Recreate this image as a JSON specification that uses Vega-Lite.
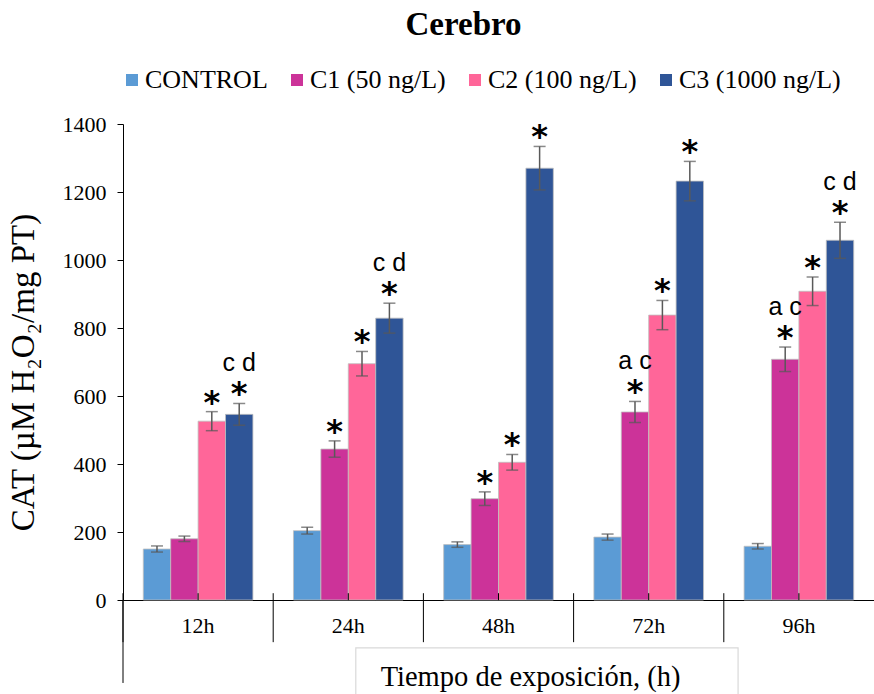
{
  "$schema": "https://vega.github.io/schema/vega-lite/v6.json",
  "autosize": {"type": "none"},
  "padding": {"left": 123, "top": 124, "right": 0, "bottom": 94},
  "width": 751,
  "height": 476,
  "background": "white",
  "title": {
    "text": "Cerebro",
    "font": "Liberation Serif",
    "fontSize": 33,
    "fontWeight": "bold",
    "color": "#000000",
    "anchor": "middle",
    "dx": -35,
    "offset": 25
  },
  "config": {
    "view": {"stroke": null},
    "axis": {"zindex": 1}
  },
  "datasets": {
    "cat": [
      {"tiempo": "12h", "grupo": "CONTROL", "valor": 150, "inf": 141, "sup": 159, "sig": "", "letras": ""},
      {"tiempo": "12h", "grupo": "C1 (50 ng/L)", "valor": 180, "inf": 172, "sup": 188, "sig": "", "letras": ""},
      {"tiempo": "12h", "grupo": "C2 (100 ng/L)", "valor": 526, "inf": 498, "sup": 554, "sig": "*", "letras": ""},
      {"tiempo": "12h", "grupo": "C3 (1000 ng/L)", "valor": 546, "inf": 514, "sup": 578, "sig": "*", "letras": "c d"},
      {"tiempo": "24h", "grupo": "CONTROL", "valor": 204, "inf": 194, "sup": 214, "sig": "", "letras": ""},
      {"tiempo": "24h", "grupo": "C1 (50 ng/L)", "valor": 444, "inf": 420, "sup": 468, "sig": "*", "letras": ""},
      {"tiempo": "24h", "grupo": "C2 (100 ng/L)", "valor": 695, "inf": 659, "sup": 731, "sig": "*", "letras": ""},
      {"tiempo": "24h", "grupo": "C3 (1000 ng/L)", "valor": 829, "inf": 785, "sup": 873, "sig": "*", "letras": "c d"},
      {"tiempo": "48h", "grupo": "CONTROL", "valor": 163, "inf": 155, "sup": 171, "sig": "", "letras": ""},
      {"tiempo": "48h", "grupo": "C1 (50 ng/L)", "valor": 298, "inf": 278, "sup": 318, "sig": "*", "letras": ""},
      {"tiempo": "48h", "grupo": "C2 (100 ng/L)", "valor": 405, "inf": 382, "sup": 428, "sig": "*", "letras": ""},
      {"tiempo": "48h", "grupo": "C3 (1000 ng/L)", "valor": 1270, "inf": 1206, "sup": 1334, "sig": "*", "letras": ""},
      {"tiempo": "72h", "grupo": "CONTROL", "valor": 185, "inf": 176, "sup": 194, "sig": "", "letras": ""},
      {"tiempo": "72h", "grupo": "C1 (50 ng/L)", "valor": 553, "inf": 522, "sup": 584, "sig": "*", "letras": "a c"},
      {"tiempo": "72h", "grupo": "C2 (100 ng/L)", "valor": 838, "inf": 795, "sup": 881, "sig": "*", "letras": ""},
      {"tiempo": "72h", "grupo": "C3 (1000 ng/L)", "valor": 1232, "inf": 1174, "sup": 1290, "sig": "*", "letras": ""},
      {"tiempo": "96h", "grupo": "CONTROL", "valor": 158, "inf": 150, "sup": 166, "sig": "", "letras": ""},
      {"tiempo": "96h", "grupo": "C1 (50 ng/L)", "valor": 708, "inf": 672, "sup": 744, "sig": "*", "letras": "a c"},
      {"tiempo": "96h", "grupo": "C2 (100 ng/L)", "valor": 908, "inf": 866, "sup": 950, "sig": "*", "letras": ""},
      {"tiempo": "96h", "grupo": "C3 (1000 ng/L)", "valor": 1058, "inf": 1005, "sup": 1111, "sig": "*", "letras": "c d"}
    ],
    "marco": [{"caja": "titulo"}]
  },
  "data": {"name": "cat"},
  "encoding": {
    "x": {
      "field": "tiempo",
      "type": "nominal",
      "sort": ["12h", "24h", "48h", "72h", "96h"],
      "scale": {"paddingInner": 0, "paddingOuter": 0},
      "axis": {
        "title": "Tiempo de exposición, (h)",
        "titleFont": "Liberation Serif",
        "titleFontSize": 28.5,
        "titleFontWeight": "normal",
        "titleColor": "#000000",
        "titleX": 407,
        "titleY": 85,
        "titleAlign": "center",
        "titleBaseline": "alphabetic",
        "labelAngle": 0,
        "labelFont": "Liberation Serif",
        "labelFontSize": 22,
        "labelColor": "#000000",
        "labelPadding": 15,
        "ticks": false,
        "domainColor": "#000000",
        "domainWidth": 1
      }
    }
  },
  "layer": [
    {
      "mark": {"type": "bar", "stroke": "#BFBFBF", "strokeWidth": 0.8},
      "encoding": {
        "xOffset": {
          "field": "grupo",
          "type": "nominal",
          "sort": ["CONTROL", "C1 (50 ng/L)", "C2 (100 ng/L)", "C3 (1000 ng/L)"],
          "scale": {"paddingInner": 0, "paddingOuter": 0.74}
        },
        "y": {
          "field": "valor",
          "type": "quantitative",
          "scale": {"domain": [0, 1400], "nice": false},
          "axis": {
            "title": "CAT (µM H₂O₂/mg PT)",
            "titleFont": "Liberation Serif",
            "titleFontSize": 33,
            "titleFontWeight": "normal",
            "titleColor": "#000000",
            "titleAngle": -90,
            "titleX": -100,
            "titleY": 248,
            "titleAlign": "center",
            "titleBaseline": "middle",
            "values": [0, 200, 400, 600, 800, 1000, 1200, 1400],
            "format": "d",
            "grid": false,
            "tickSize": 6,
            "tickColor": "#000000",
            "domainColor": "#000000",
            "labelFont": "Liberation Serif",
            "labelFontSize": 22,
            "labelColor": "#000000",
            "labelPadding": 11
          }
        },
        "color": {
          "field": "grupo",
          "type": "nominal",
          "sort": ["CONTROL", "C1 (50 ng/L)", "C2 (100 ng/L)", "C3 (1000 ng/L)"],
          "scale": {
            "domain": ["CONTROL", "C1 (50 ng/L)", "C2 (100 ng/L)", "C3 (1000 ng/L)"],
            "range": ["#5B9BD5", "#CC3399", "#FF6699", "#2F5597"]
          },
          "legend": {
            "title": null,
            "orient": "none",
            "legendX": -4,
            "legendY": -57,
            "direction": "horizontal",
            "symbolType": "square",
            "symbolSize": 144,
            "symbolStrokeWidth": 0,
            "labelFont": "Liberation Serif",
            "labelFontSize": 26,
            "labelColor": "#000000",
            "labelLimit": 400,
            "labelOffset": 0,
            "columnPadding": 16
          }
        }
      }
    },
    {
      "mark": {"type": "rule", "color": "#595959", "strokeWidth": 1.5},
      "encoding": {
        "xOffset": {"field": "grupo", "type": "nominal", "sort": ["CONTROL", "C1 (50 ng/L)", "C2 (100 ng/L)", "C3 (1000 ng/L)"]},
        "y": {"field": "inf", "type": "quantitative"},
        "y2": {"field": "sup"}
      }
    },
    {
      "mark": {"type": "tick", "orient": "horizontal", "size": 12, "thickness": 1.5, "color": "#595959"},
      "encoding": {
        "xOffset": {"field": "grupo", "type": "nominal", "sort": ["CONTROL", "C1 (50 ng/L)", "C2 (100 ng/L)", "C3 (1000 ng/L)"]},
        "y": {"field": "sup", "type": "quantitative"}
      }
    },
    {
      "mark": {"type": "tick", "orient": "horizontal", "size": 12, "thickness": 1.5, "color": "#595959"},
      "encoding": {
        "xOffset": {"field": "grupo", "type": "nominal", "sort": ["CONTROL", "C1 (50 ng/L)", "C2 (100 ng/L)", "C3 (1000 ng/L)"]},
        "y": {"field": "inf", "type": "quantitative"}
      }
    },
    {
      "transform": [{"filter": "datum.sig != ''"}],
      "mark": {"type": "text", "font": "DejaVu Sans", "fontSize": 32, "fontWeight": "bold", "color": "#000000", "baseline": "alphabetic", "dy": 1},
      "encoding": {
        "xOffset": {"field": "grupo", "type": "nominal", "sort": ["CONTROL", "C1 (50 ng/L)", "C2 (100 ng/L)", "C3 (1000 ng/L)"]},
        "y": {"field": "sup", "type": "quantitative"},
        "text": {"field": "sig"}
      }
    },
    {
      "transform": [{"filter": "datum.letras != ''"}],
      "mark": {"type": "text", "font": "Liberation Sans", "fontSize": 25, "color": "#000000", "baseline": "alphabetic", "dy": -32},
      "encoding": {
        "xOffset": {"field": "grupo", "type": "nominal", "sort": ["CONTROL", "C1 (50 ng/L)", "C2 (100 ng/L)", "C3 (1000 ng/L)"]},
        "y": {"field": "sup", "type": "quantitative"},
        "text": {"field": "letras"}
      }
    },
    {
      "transform": [{"filter": "datum.grupo == 'CONTROL'"}],
      "mark": {"type": "rule", "color": "#000000", "strokeWidth": 1},
      "encoding": {
        "x": {"field": "tiempo", "type": "nominal", "bandPosition": 0},
        "y": {"datum": 20},
        "y2": {"datum": -124}
      }
    },
    {
      "transform": [{"filter": "datum.grupo == 'CONTROL'"}],
      "mark": {"type": "rule", "color": "#000000", "strokeWidth": 1},
      "encoding": {
        "y": {"datum": 0},
        "y2": {"datum": 20}
      }
    },
    {
      "transform": [{"filter": "datum.grupo == 'CONTROL' && datum.tiempo == '12h'"}],
      "mark": {"type": "rule", "color": "#000000", "strokeWidth": 1},
      "encoding": {
        "x": {"field": "tiempo", "type": "nominal", "bandPosition": 0},
        "y": {"datum": 0},
        "y2": {"datum": -244}
      }
    },
    {
      "data": {"name": "marco"},
      "mark": {"type": "rect", "filled": false, "stroke": "#D9D9D9", "strokeWidth": 1.2},
      "encoding": {
        "x": {"datum": "24h", "bandPosition": 0.55},
        "x2": {"datum": "96h", "bandPosition": 0.095},
        "y": {"datum": -141},
        "y2": {"datum": -300}
      }
    }
  ]
}
